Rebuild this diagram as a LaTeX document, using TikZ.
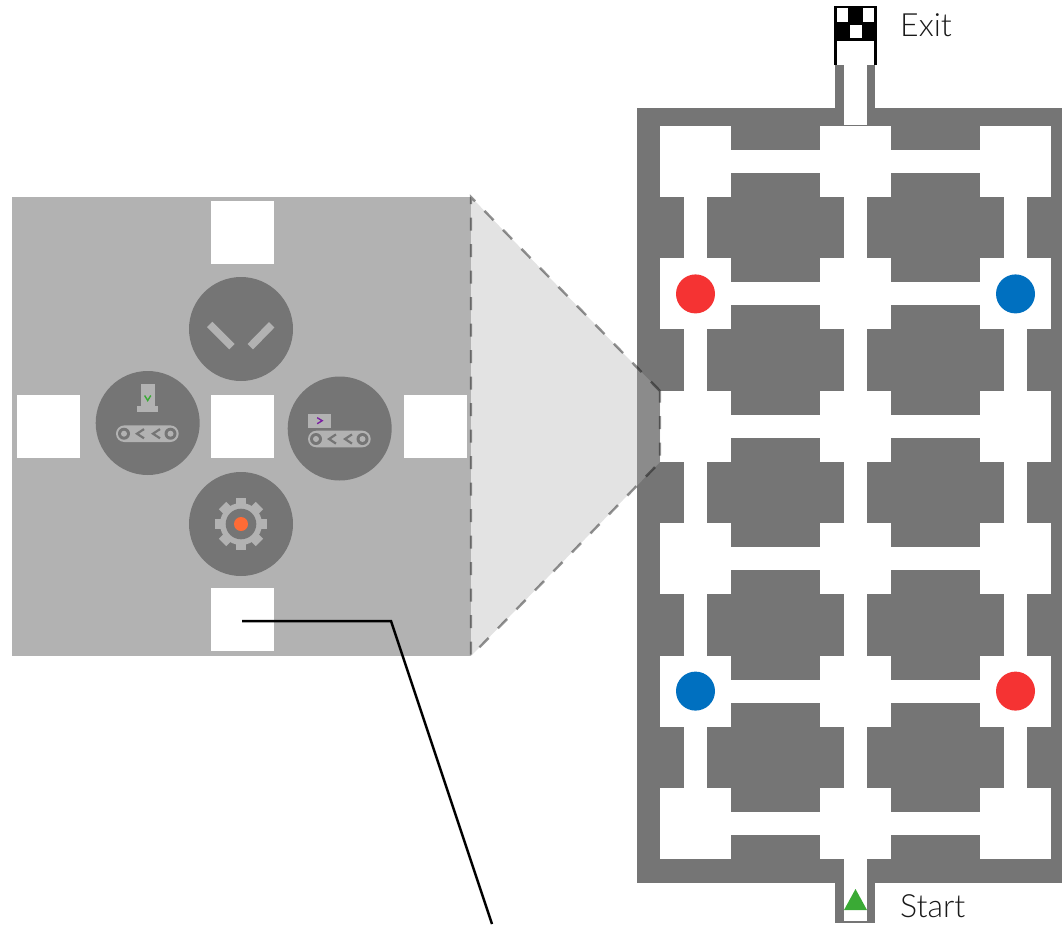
\documentclass[tikz,border=0pt]{standalone}
\usepackage{fontspec}
\newfontfamily\labelfont{Lato Light}
\definecolor{wallgray}{HTML}{757575}
\definecolor{panelgray}{HTML}{B2B2B2}
\definecolor{tokenred}{HTML}{F53333}
\definecolor{tokenblue}{HTML}{0070C0}
\definecolor{startgreen}{HTML}{3AAA35}
\definecolor{hubpurple}{HTML}{7A1FA2}
\definecolor{coreorange}{HTML}{FF6B35}
\newcommand{\belt}[2]{%
  \fill[panelgray, rounded corners=8.3pt] (#1-8,#2-8.3) rectangle (#1+54.7,#2+8.3);
  \fill[wallgray] (#1,#2) circle (6) (#1+46.5,#2) circle (6);
  \fill[panelgray] (#1,#2) circle (3) (#1+46.5,#2) circle (3);
  \draw[wallgray, line width=2.2pt] (#1+20,#2-4.6) -- (#1+13,#2) -- (#1+20,#2+4.6);
  \draw[wallgray, line width=2.2pt] (#1+36,#2-4.6) -- (#1+29,#2) -- (#1+36,#2+4.6);
}
\tikzset{
  room/.style={fill=white, minimum size=71pt, inner sep=0pt, outer sep=0pt},
  corridor/.style={draw=white, line width=23pt, line cap=butt, shorten <=-1pt, shorten >=-1pt},
  token/.style={circle, minimum size=39pt, inner sep=0pt},
  cell/.style={fill=white, minimum size=63pt, inner sep=0pt, outer sep=0pt},
  machine/.style={circle, fill=wallgray, minimum size=104pt, inner sep=0pt},
  maptext/.style={anchor=base west, inner sep=0pt, font=\labelfont\fontsize{32}{38}\selectfont, text=black!90},
  zoomedge/.style={black, opacity=0.42, line width=2.4pt, dash pattern=on 13pt off 13.5pt},
}
\begin{document}
\begin{tikzpicture}[x=1pt, y=-1pt]
  \useasboundingbox (0,0) rectangle (1062,924);

  % maze walls
  \fill[wallgray] (637,108) rectangle (1062,883);
  \fill[wallgray] (835,65) rectangle (875,108);
  \fill[wallgray] (835,883) rectangle (875,923);

  % rooms
  \node[room] (r11) at (695.5,161.5) {};
  \node[room] (r12) at (855.5,161.5) {};
  \node[room] (r13) at (1015.5,161.5) {};
  \node[room] (r21) at (695.5,293.9) {};
  \node[room] (r22) at (855.5,293.9) {};
  \node[room] (r23) at (1015.5,293.9) {};
  \node[room] (r31) at (695.5,426.3) {};
  \node[room] (r32) at (855.5,426.3) {};
  \node[room] (r33) at (1015.5,426.3) {};
  \node[room] (r41) at (695.5,558.7) {};
  \node[room] (r42) at (855.5,558.7) {};
  \node[room] (r43) at (1015.5,558.7) {};
  \node[room] (r51) at (695.5,691.1) {};
  \node[room] (r52) at (855.5,691.1) {};
  \node[room] (r53) at (1015.5,691.1) {};
  \node[room] (r61) at (695.5,823.5) {};
  \node[room] (r62) at (855.5,823.5) {};
  \node[room] (r63) at (1015.5,823.5) {};

  % corridors
  \path[every edge/.style={corridor}]
    (r11) edge (r12) (r12) edge (r13)
    (r21) edge (r22) (r22) edge (r23)
    (r31) edge (r32) (r32) edge (r33)
    (r41) edge (r42) (r42) edge (r43)
    (r51) edge (r52) (r52) edge (r53)
    (r61) edge (r62) (r62) edge (r63)
    (r11) edge (r21) (r21) edge (r31) (r31) edge (r41) (r41) edge (r51) (r51) edge (r61)
    (r12) edge (r22) (r22) edge (r32) (r32) edge (r42) (r42) edge (r52) (r52) edge (r62)
    (r13) edge (r23) (r23) edge (r33) (r33) edge (r43) (r43) edge (r53) (r53) edge (r63);

  % way out and way in
  \fill[white] (844,65) rectangle (867,125);
  \fill[white] (844,859) rectangle (867,920.7);
  \fill[startgreen] (855.5,889) -- (867,910) -- (844,910) -- cycle;

  % exit flag
  \fill[black] (834.3,6) rectangle (877,41);
  \fill[black] (834.3,41) rectangle (837.3,65);
  \fill[black] (874,41) rectangle (877,65);
  \fill[white] (837.3,8.3) rectangle (848,22);
  \fill[white] (863.3,8.3) rectangle (874,22);
  \fill[white] (850,25) rectangle (862,38);

  % tokens
  \node[token, fill=tokenred] (tokena) at (r21) {};
  \node[token, fill=tokenblue] (tokenb) at (r23) {};
  \node[token, fill=tokenblue] (tokenc) at (r51) {};
  \node[token, fill=tokenred] (tokend) at (r53) {};

  \node[maptext] (exitlabel) at (900,36.7) {Exit};
  \node[maptext] (startlabel) at (900,917) {Start};

  % enlarged room
  \fill[panelgray] (12,197) rectangle (471,656);
  \node[cell] (cellt) at (242.5,232.5) {};
  \node[cell] (celll) at (48.5,426.5) {};
  \node[cell] (cellc) at (242.5,426.5) {};
  \node[cell] (cellr) at (435.5,426.5) {};
  \node[cell] (cellb) at (242.5,619.5) {};

  \node[machine] (mtop) at (241,329) {};
  \node[machine] (mleft) at (147.7,423) {};
  \node[machine] (mright) at (339.7,428.5) {};
  \node[machine] (mgear) at (241,524) {};

  % splitter
  \draw[panelgray, line width=7.7pt] (209.7,324.5) -- (232,346.7);
  \draw[panelgray, line width=7.7pt] (271.7,324.8) -- (250.3,346.7);

  % left belt with chute
  \fill[panelgray] (141,384) rectangle (155,406);
  \fill[panelgray] (137,406) rectangle (158,412);
  \draw[startgreen, line width=1.4pt] (144.6,395.5) -- (147.7,400.5) -- (150.8,395.5);
  \belt{124}{433.7}

  % right belt with box
  \fill[panelgray] (308,414) rectangle (331,428);
  \draw[hubpurple, line width=1.4pt] (317.2,417.7) -- (322.2,420.7) -- (317.2,423.7);
  \belt{316}{439}

  % gear
  \draw[panelgray, line width=10.5pt] (215,524) -- (267,524);
  \draw[panelgray, line width=10.5pt] (241,498) -- (241,550);
  \draw[panelgray, line width=10.5pt] (222.6,505.6) -- (259.4,542.4);
  \draw[panelgray, line width=10.5pt] (259.4,505.6) -- (222.6,542.4);
  \fill[panelgray] (241,524) circle (21);
  \fill[wallgray] (241,524) circle (15.3);
  \fill[coreorange] (241,524) circle (7);

  % zoom wedge
  \coordinate (wedgea) at (471,197);
  \coordinate (wedgeb) at (660,391);
  \coordinate (wedgec) at (660,462);
  \coordinate (wedged) at (471,656);
  \fill[panelgray, opacity=0.36] (wedgea) -- (wedgeb) -- (wedgec) -- (wedged) -- cycle;
  \draw[zoomedge] (wedgeb) -- (wedgea) -- (wedged) -- (wedgec) -- (wedgeb);

  % wire
  \coordinate (wirebend) at (391,621);
  \coordinate (wireend) at (492,924);
  \draw[black, line width=2.5pt] (242,621) -- (wirebend) -- (wireend);
\end{tikzpicture}
\end{document}
